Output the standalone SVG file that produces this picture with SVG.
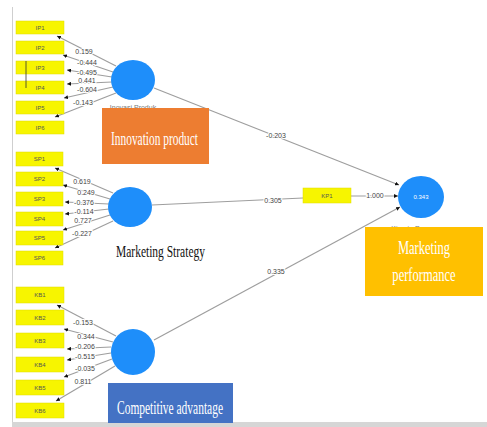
<svg xmlns="http://www.w3.org/2000/svg" width="487" height="427" viewBox="0 0 487 427">
<style>
.ind{fill:#F7F500;stroke:#E0DC00;stroke-width:0.5}
.it{font-family:"Liberation Sans",Arial,sans-serif;font-size:6px;fill:#555;text-anchor:middle}
.lv{fill:#1E8EFA}
.ln{stroke:#9E9E9E;stroke-width:1.2;fill:none}
.lb{font-family:"Liberation Sans",Arial,sans-serif;font-size:7px;fill:#444;text-anchor:middle;stroke:#fff;stroke-width:2px;paint-order:stroke}
.sm{font-family:"Liberation Sans",Arial,sans-serif;font-size:7px;fill:#777;text-anchor:middle}
.cap{font-family:"Liberation Serif","Times New Roman",serif;fill:#fff;text-anchor:middle}
</style>
<defs>
<marker id="ar" viewBox="0 0 10 10" refX="10" refY="5" markerWidth="4" markerHeight="4" orient="auto" markerUnits="userSpaceOnUse"><path d="M0,0 L10,5 L0,10 z" fill="#111"/></marker>
</defs>
<rect width="487" height="427" fill="#fff"/>
<line x1="12.5" y1="7" x2="12.5" y2="423" stroke="#cfcfcf" stroke-width="1"/>
<rect x="12" y="422" width="475" height="5" fill="#d6d6d6"/>

<g id="connectors">
<line class="ln" x1="116" y1="66" x2="57" y2="36" marker-end="url(#ar)"/>
<line class="ln" x1="113" y1="72" x2="63" y2="55" marker-end="url(#ar)"/>
<line class="ln" x1="112" y1="77" x2="67" y2="70" marker-end="url(#ar)"/>
<line class="ln" x1="112" y1="82" x2="67" y2="84" marker-end="url(#ar)"/>
<line class="ln" x1="113" y1="87" x2="64" y2="98" marker-end="url(#ar)"/>
<line class="ln" x1="116" y1="93" x2="55" y2="117" marker-end="url(#ar)"/>
<line class="ln" x1="113" y1="193" x2="55" y2="168" marker-end="url(#ar)"/>
<line class="ln" x1="110" y1="199" x2="63" y2="185" marker-end="url(#ar)"/>
<line class="ln" x1="109" y1="204" x2="65" y2="202" marker-end="url(#ar)"/>
<line class="ln" x1="109" y1="209" x2="65" y2="214" marker-end="url(#ar)"/>
<line class="ln" x1="110" y1="215" x2="63" y2="230" marker-end="url(#ar)"/>
<line class="ln" x1="113" y1="221" x2="55" y2="248" marker-end="url(#ar)"/>
<line class="ln" x1="116" y1="336" x2="57" y2="305" marker-end="url(#ar)"/>
<line class="ln" x1="113" y1="342" x2="64" y2="329" marker-end="url(#ar)"/>
<line class="ln" x1="111" y1="347" x2="67" y2="349" marker-end="url(#ar)"/>
<line class="ln" x1="111" y1="353" x2="67" y2="360" marker-end="url(#ar)"/>
<line class="ln" x1="112" y1="359" x2="64" y2="377" marker-end="url(#ar)"/>
<line class="ln" x1="115" y1="366" x2="56" y2="401" marker-end="url(#ar)"/>
<line class="ln" x1="154" y1="88" x2="399" y2="185" marker-end="url(#ar)"/>
<line class="ln" x1="152" y1="205" x2="303" y2="198"/>
<line class="ln" x1="351" y1="196" x2="398" y2="196" stroke-width="1.6" marker-end="url(#ar)"/>
<line class="ln" x1="154" y1="340" x2="400" y2="207" marker-end="url(#ar)"/>

<text class="lb" x="84" y="54">0.159</text>
<text class="lb" x="87" y="65">-0.444</text>
<text class="lb" x="87" y="75">-0.495</text>
<text class="lb" x="87" y="83">0.441</text>
<text class="lb" x="87" y="92">-0.604</text>
<text class="lb" x="83" y="105">-0.143</text>
<text class="lb" x="82" y="184">0.619</text>
<text class="lb" x="86" y="195">0.249</text>
<text class="lb" x="84" y="205">-0.376</text>
<text class="lb" x="84" y="214">-0.114</text>
<text class="lb" x="83" y="223">0.727</text>
<text class="lb" x="82" y="236">-0.227</text>
<text class="lb" x="83" y="325">-0.153</text>
<text class="lb" x="86" y="339">0.344</text>
<text class="lb" x="85" y="349">-0.206</text>
<text class="lb" x="85" y="359">-0.515</text>
<text class="lb" x="85" y="371">-0.035</text>
<text class="lb" x="83" y="384">0.811</text>
<text class="lb" x="276" y="138">-0.203</text>
<text class="lb" x="273" y="203">0.305</text>
<text class="lb" x="375" y="198">1.000</text>
<text class="lb" x="276" y="274">0.335</text>
</g>

<g id="IP1"><rect class="ind" x="16" y="21" width="48" height="13"/><text class="it" x="40" y="29.5">IP1</text></g>
<g id="IP2"><rect class="ind" x="16" y="41" width="48" height="13"/><text class="it" x="40" y="49.5">IP2</text></g>
<g id="IP3"><rect class="ind" x="16" y="61" width="48" height="13"/><text class="it" x="40" y="69.5">IP3</text></g>
<g id="IP4"><rect class="ind" x="16" y="81" width="48" height="13"/><text class="it" x="40" y="89.5">IP4</text></g>
<g id="IP5"><rect class="ind" x="16" y="101" width="48" height="13"/><text class="it" x="40" y="109.5">IP5</text></g>
<g id="IP6"><rect class="ind" x="16" y="121" width="48" height="13"/><text class="it" x="40" y="129.5">IP6</text></g>
<line x1="26" y1="61" x2="26" y2="88" stroke="#333" stroke-width="0.8"/>

<g id="SP1"><rect class="ind" x="16" y="152" width="47" height="14"/><text class="it" x="39.5" y="161">SP1</text></g>
<g id="SP2"><rect class="ind" x="16" y="172" width="47" height="14"/><text class="it" x="39.5" y="181">SP2</text></g>
<g id="SP3"><rect class="ind" x="16" y="192" width="47" height="14"/><text class="it" x="39.5" y="201">SP3</text></g>
<g id="SP4"><rect class="ind" x="16" y="212" width="47" height="14"/><text class="it" x="39.5" y="221">SP4</text></g>
<g id="SP5"><rect class="ind" x="16" y="231" width="47" height="14"/><text class="it" x="39.5" y="240">SP5</text></g>
<g id="SP6"><rect class="ind" x="16" y="251" width="47" height="14"/><text class="it" x="39.5" y="260">SP6</text></g>

<g id="KB1"><rect class="ind" x="16" y="287" width="48" height="16"/><text class="it" x="40" y="297">KB1</text></g>
<g id="KB2"><rect class="ind" x="16" y="310" width="48" height="15"/><text class="it" x="40" y="319.5">KB2</text></g>
<g id="KB3"><rect class="ind" x="16" y="333" width="48" height="15"/><text class="it" x="40" y="342.5">KB3</text></g>
<g id="KB4"><rect class="ind" x="16" y="357" width="48" height="15"/><text class="it" x="40" y="366.5">KB4</text></g>
<g id="KB5"><rect class="ind" x="16" y="380" width="48" height="15"/><text class="it" x="40" y="389.5">KB5</text></g>
<g id="KB6"><rect class="ind" x="16" y="403" width="48" height="15"/><text class="it" x="40" y="412.5">KB6</text></g>

<g id="KP1"><rect class="ind" x="303" y="188" width="48" height="15"/><text class="it" x="327" y="197.5">KP1</text></g>

<g id="InovasiProduk">
<ellipse class="lv" cx="133" cy="80" rx="22" ry="20"/>
<text class="sm" x="133" y="110">Inovasi Produk</text>
</g>
<g id="StrategiPemasaran">
<ellipse class="lv" cx="130" cy="207" rx="22" ry="20"/>
</g>
<g id="KeunggulanBersaing">
<ellipse class="lv" cx="133" cy="352" rx="22" ry="23"/>
</g>
<g id="KinerjaPemasaran">
<ellipse class="lv" cx="421" cy="197" rx="23" ry="21"/>
<text x="421" y="199" font-family="Liberation Sans, Arial, sans-serif" font-size="6" fill="#fff" text-anchor="middle">0.343</text>
<text class="sm" x="421" y="231">Kinerja Pemasaran</text>
</g>

<g id="cap-innovation">
<rect x="102" y="108" width="107" height="56" fill="#ED7D31"/>
<text class="cap" x="154.5" y="145" font-size="19" textLength="87" lengthAdjust="spacingAndGlyphs">Innovation product</text>
</g>
<g id="cap-strategy">
<text x="116" y="257" font-family="Liberation Serif, Times New Roman, serif" font-size="17" fill="#111" textLength="89" lengthAdjust="spacingAndGlyphs">Marketing Strategy</text>
</g>
<g id="cap-competitive">
<rect x="108" y="383" width="125" height="40" fill="#4472C4"/>
<text class="cap" x="170" y="414" font-size="19" textLength="106" lengthAdjust="spacingAndGlyphs">Competitive advantage</text>
</g>
<g id="cap-performance">
<rect x="365" y="227" width="118" height="69" fill="#FFC000"/>
<g transform="translate(424,0) scale(0.66,1)">
<text class="cap" x="0" y="254" font-size="19">Marketing</text>
<text class="cap" x="0" y="281" font-size="19">performance</text>
</g>
</g>
</svg>
